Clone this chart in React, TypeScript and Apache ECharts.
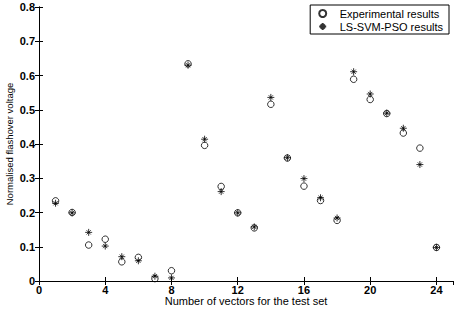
import React, { useEffect, useRef } from "react";
import * as echarts from "echarts";

const vectors = [1, 2, 3, 4, 5, 6, 7, 8, 9, 10, 11, 12, 13, 14, 15, 16, 17, 18, 19, 20, 21, 22, 23, 24];
const experimental = [0.234, 0.2, 0.105, 0.122, 0.056, 0.069, 0.007, 0.03, 0.634, 0.396, 0.276, 0.199, 0.155, 0.516, 0.359, 0.277, 0.235, 0.177, 0.589, 0.53, 0.489, 0.432, 0.388, 0.098];
const lssvmPso = [0.227, 0.199, 0.142, 0.102, 0.071, 0.059, 0.014, 0.009, 0.63, 0.414, 0.261, 0.199, 0.158, 0.536, 0.36, 0.299, 0.243, 0.184, 0.611, 0.546, 0.49, 0.446, 0.34, 0.098];
const seriesNames = ["Experimental results", "LS-SVM-PSO results"];
const xTitle = "Number of vectors for the test set";
const yTitle = "Normalised flashover voltage";

const FONT = "'Liberation Sans', Arial, Helvetica, sans-serif";
const STAR = "path://M5,0L5,10M0,5L10,5M2,2L8,8M2,8L8,2";

export default function App() {
  const ref = useRef<HTMLDivElement>(null);
  useEffect(() => {
    if (!ref.current) return;
    const chart = echarts.init(ref.current, undefined, { renderer: "svg" });
    const tickLabel = { color: "#000", fontSize: 11, fontFamily: FONT, fontWeight: "bold" as const };
    const axisLine = { show: true, lineStyle: { color: "#000", width: 1 } };
    const axisTick = { show: true, inside: true, length: 4, lineStyle: { color: "#000" } };
    chart.setOption({
      animation: false,
      backgroundColor: "#fff",
      grid: { left: 39, right: 7, top: 7, bottom: 29, containLabel: false, outerBoundsMode: "none" },
      legend: {
        orient: "vertical",
        right: 11,
        top: 5,
        padding: [3, 6, 2, 8],
        itemGap: 2,
        itemWidth: 24,
        itemHeight: 7,
        borderColor: "#000",
        borderWidth: 1,
        backgroundColor: "#fff",
        textStyle: { color: "#000", fontSize: 11, fontFamily: FONT },
        data: seriesNames,
      },
      xAxis: [
        {
          type: "value",
          min: 0,
          max: 25,
          interval: 4,
          position: "bottom",
          splitLine: { show: false },
          axisLine,
          axisTick,
          axisLabel: { ...tickLabel, margin: 3, showMaxLabel: false, formatter: (v: number) => (v > 24 ? "" : String(v)) },
          name: xTitle,
          nameLocation: "middle",
          nameGap: 14,
          nameMoveOverlap: false,
          nameTextStyle: { color: "#000", fontSize: 11, fontFamily: FONT },
        },
        {
          type: "value",
          min: 0,
          max: 25,
          interval: 4,
          position: "top",
          splitLine: { show: false },
          axisLine,
          axisTick,
          axisLabel: { show: false },
        },
      ],
      yAxis: [
        {
          type: "value",
          min: 0,
          max: 0.8,
          interval: 0.1,
          position: "left",
          splitLine: { show: false },
          axisLine,
          axisTick,
          axisLabel: { ...tickLabel, margin: 4 },
          name: yTitle,
          nameLocation: "middle",
          nameGap: 25,
          nameMoveOverlap: false,
          nameTextStyle: { color: "#000", fontSize: 9.5, fontFamily: FONT },
        },
        {
          type: "value",
          min: 0,
          max: 0.8,
          interval: 0.1,
          position: "right",
          splitLine: { show: false },
          axisLine,
          axisTick,
          axisLabel: { show: false },
        },
      ],
      series: [
        {
          name: seriesNames[0],
          type: "scatter",
          symbol: "circle",
          symbolSize: 6.5,
          itemStyle: { color: "transparent", borderColor: "#000", borderWidth: 1 },
          data: vectors.map((v, i) => [v, experimental[i]]),
        },
        {
          name: seriesNames[1],
          type: "scatter",
          symbol: STAR,
          symbolSize: 7,
          itemStyle: { color: "transparent", borderColor: "#000", borderWidth: 1 },
          data: vectors.map((v, i) => [v, lssvmPso[i]]),
        },
      ],
    });
    return () => chart.dispose();
  }, []);
  return (
    <div
      ref={ref}
      style={{ position: "fixed", left: 0, top: 0, width: 460, height: 310, background: "#fff" }}
    />
  );
}
